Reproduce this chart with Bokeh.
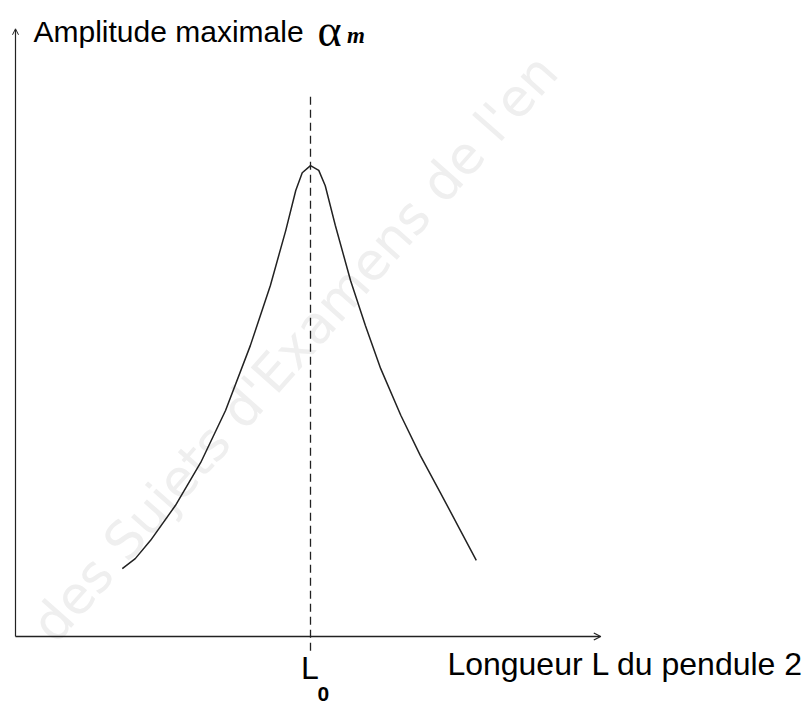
from bokeh.plotting import figure
from bokeh.models import Range1d, Arrow, OpenHead, Label
from bokeh.embed import file_html
from bokeh.resources import INLINE

# Resonance curve: length L of pendulum 2 vs maximal amplitude (arbitrary units)
L_values = [1.81, 2.03, 2.29, 2.71, 3.14, 3.56, 3.98, 4.32, 4.58, 4.75, 4.86, 5.00,
            5.14, 5.25, 5.42, 5.68, 5.93, 6.19, 6.53, 6.86, 7.20, 7.54, 7.81]
amplitude = [1.15, 1.32, 1.63, 2.22, 2.95, 3.83, 4.93, 5.95, 6.88, 7.56, 7.86, 7.98,
             7.90, 7.64, 6.97, 6.03, 5.27, 4.54, 3.75, 3.07, 2.44, 1.80, 1.29]
L0 = 5.0
x_label = "Longueur L du pendule 2"
y_label = "Amplitude maximale"

W, H = 803, 709
p = figure(width=W, height=H, output_backend="svg", toolbar_location=None,
           x_range=Range1d(-15 / 59, (W - 15) / 59),
           y_range=Range1d(-(H - 636) / 59, 636 / 59),
           x_axis_type=None, y_axis_type=None, min_border=0,
           outline_line_color=None)
p.grid.visible = False
p.background_fill_color = "white"

# watermark (drawn beneath everything)
p.add_layout(Label(x=0.45, y=0.05, text="des Sujets d'Examens de l'en",
                   angle=48.5, angle_units="deg", text_font="DejaVu Sans",
                   text_font_size="52px", text_color="#efefef",
                   text_baseline="alphabetic", level="underlay"))

# axes with arrows
p.add_layout(Arrow(end=OpenHead(size=7, line_width=1.2, line_color="#222222"),
                   x_start=0, y_start=0, x_end=9.92, y_end=0,
                   line_width=1.3, line_color="#222222"))
p.add_layout(Arrow(end=OpenHead(size=6, line_width=1, line_color="#222222"),
                   x_start=0, y_start=0, x_end=0, y_end=10.3,
                   line_width=1.2, line_color="#222222"))

# dashed line at L0
p.line([L0, L0], [-0.24, 9.17], line_dash="8 5", line_color="#222222", line_width=1.3)

# curve
p.line(L_values, amplitude, line_color="#222222", line_width=1.5)

# texts
p.add_layout(Label(x=0.305, y=10.25, text=y_label, text_font="Liberation Sans",
                   text_font_size="30px", text_color="black", text_baseline="alphabetic"))
p.add_layout(Label(x=5.12, y=10.27, text="α", text_font="Liberation Serif",
                   text_font_size="46px", text_color="black", text_baseline="alphabetic"))
p.add_layout(Label(x=5.62, y=10.18, text="m", text_font="Liberation Serif",
                   text_font_style="bold italic", text_font_size="23px",
                   text_color="black", text_baseline="alphabetic"))
p.add_layout(Label(x=7.32, y=-0.46, text=x_label, text_font="Liberation Sans",
                   text_font_size="32px", text_color="black", text_baseline="alphabetic"))
p.add_layout(Label(x=4.84, y=-0.54, text="L", text_font="Liberation Sans",
                   text_font_size="32px", text_color="black", text_baseline="alphabetic"))
p.add_layout(Label(x=5.12, y=-0.98, text="0", text_font="Liberation Sans",
                   text_font_style="bold", text_font_size="21px", text_color="black",
                   text_baseline="alphabetic"))

open("out.html", "w").write(file_html(p, INLINE))
